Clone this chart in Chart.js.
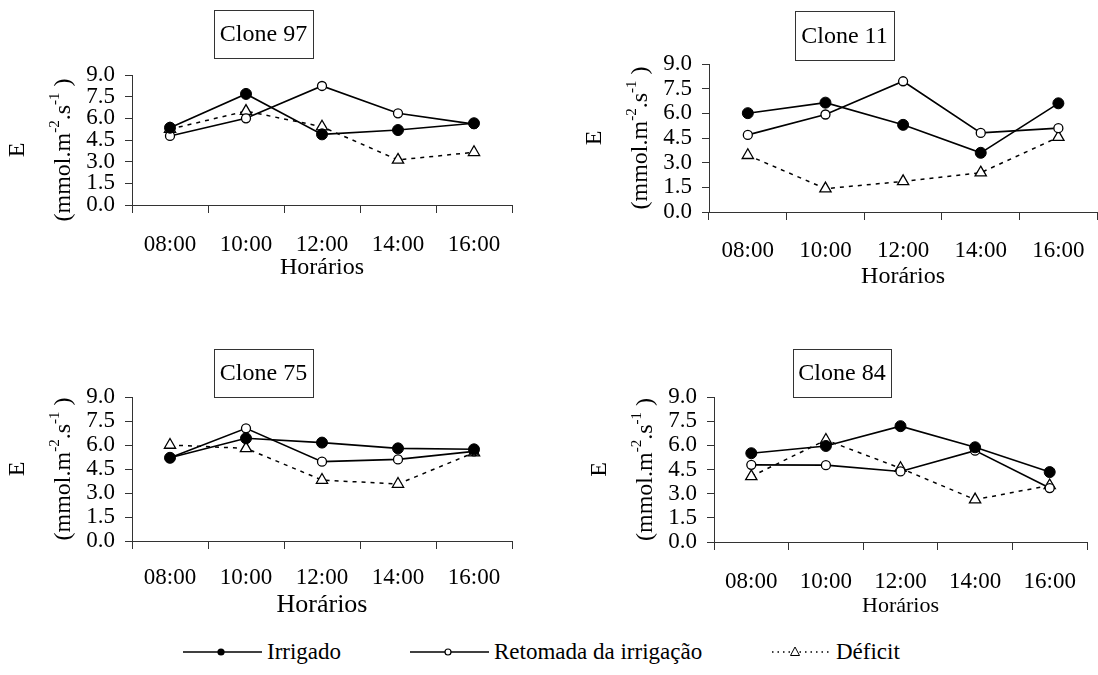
<!DOCTYPE html>
<html>
<head>
<meta charset="utf-8">
<script src="https://cdn.jsdelivr.net/npm/chart.js@4.4.1/dist/chart.umd.min.js"></script>
<style>
html, body { margin:0; padding:0; background:#fff; width:1098px; height:675px; overflow:hidden; position:relative; }
canvas { position:absolute; }
.leg { position:absolute; top:636px; height:32px; font-family:"Liberation Serif","Times New Roman",serif; font-size:23px; line-height:32px; color:#000; white-space:nowrap; }
.leg svg { position:absolute; top:0; left:0; }
.leg span { position:absolute; top:0; }
</style>
</head>
<body>
<canvas id="c0" width="540" height="300" style="left:0px;top:0px"></canvas>
<canvas id="c1" width="545" height="300" style="left:560px;top:0px"></canvas>
<canvas id="c2" width="540" height="300" style="left:0px;top:330px"></canvas>
<canvas id="c3" width="540" height="300" style="left:560px;top:330px"></canvas>
<div id="legend"></div>
<script>
// horários (eixo x) e marcas do eixo y
const horarios = ['08:00', '10:00', '12:00', '14:00', '16:00'];
const yTickValues = [0, 1.5, 3, 4.5, 6, 7.5, 9];
const seriesNames = ['Irrigado', 'Retomada da irrigação', 'Déficit'];
const cloneNames = ['Clone 97', 'Clone 11', 'Clone 75', 'Clone 84'];

// E (mmol.m-2.s-1)
const irrigado97 = [5.35, 7.69, 4.89, 5.19, 5.66];
const retomada97 = [4.78, 6.00, 8.24, 6.35, 5.60];
const deficit97  = [5.25, 6.50, 5.42, 3.12, 3.65];

const irrigado11 = [6.01, 6.65, 5.30, 3.60, 6.61];
const retomada11 = [4.69, 5.93, 7.95, 4.81, 5.10];
const deficit11  = [3.45, 1.42, 1.86, 2.39, 4.55];

const irrigado75 = [5.20, 6.42, 6.15, 5.79, 5.73];
const retomada75 = [5.20, 7.04, 4.96, 5.10, 5.60];
const deficit75  = [6.00, 5.79, 3.81, 3.56, 5.52];

const irrigado84 = [5.51, 5.96, 7.19, 5.88, 4.34];
const retomada84 = [4.79, 4.77, 4.38, 5.67, 3.35];
const deficit84  = [4.07, 6.33, 4.58, 2.63, 3.51];

const FONT = '"Liberation Serif", "Times New Roman", serif';
const Y_AXIS_W = 60;

// layout of each panel (pixels)
const panels = [
  { id: 'c0', title: cloneNames[0], values: [irrigado97, retomada97, deficit97],
    pad: { left: 72, top: 75, right: 28, bottom: 20 }, xH: 75, tickPad: 18, xTitle: 24,
    box: { dx: 82, dy: -65, w: 99, h: 48 }, yShift: 10 },
  { id: 'c1', title: cloneNames[1], values: [irrigado11, retomada11, deficit11],
    pad: { left: 89, top: 64, right: 4, bottom: 11 }, xH: 77, tickPad: 17, xTitle: 24,
    box: { dx: 86, dy: -53, w: 99, h: 49 }, yShift: 0 },
  { id: 'c2', title: cloneNames[2], values: [irrigado75, retomada75, deficit75],
    pad: { left: 72, top: 67, right: 28, bottom: 12 }, xH: 77, tickPad: 15, xTitle: 26,
    box: { dx: 82, dy: -48, w: 99, h: 48 }, yShift: 0 },
  { id: 'c3', title: cloneNames[3], values: [irrigado84, retomada84, deficit84],
    pad: { left: 94, top: 67, right: 13, bottom: 13 }, xH: 75, tickPad: 18, xTitle: 22,
    box: { dx: 79, dy: -48, w: 98, h: 48 }, yShift: 0 }
];

const panelDeco = {
  id: 'panelDeco',
  afterDraw(chart, args, opts) {
    const ctx = chart.ctx;
    const a = chart.chartArea;
    ctx.save();
    // caixa com o nome do clone
    const bx = Math.round(a.left + opts.box.dx), by = Math.round(a.top + opts.box.dy);
    ctx.strokeStyle = '#333';
    ctx.lineWidth = 1;
    ctx.strokeRect(bx + 0.5, by + 0.5, opts.box.w, opts.box.h);
    ctx.fillStyle = '#000';
    ctx.font = '24px ' + FONT;
    ctx.textAlign = 'center';
    ctx.textBaseline = 'middle';
    ctx.fillText(opts.title, bx + opts.box.w / 2, by + opts.box.h / 2 + 1);

    // título do eixo y, rotacionado
    const cy = (a.top + a.bottom) / 2 + opts.yShift;
    ctx.textBaseline = 'alphabetic';
    ctx.save();
    ctx.translate(a.left - 108, cy);
    ctx.rotate(-Math.PI / 2);
    ctx.font = '24px ' + FONT;
    ctx.textAlign = 'center';
    ctx.fillText('E', 0, 0);
    ctx.restore();

    const parts = [['(mmol.m', false], ['-2', true], ['.s', false], ['-1', true], [' )', false]];
    const big = '24px ' + FONT, small = '15px ' + FONT;
    let total = 0;
    parts.forEach(p => { ctx.font = p[1] ? small : big; total += ctx.measureText(p[0]).width; });
    ctx.save();
    ctx.translate(a.left - 62, cy);
    ctx.rotate(-Math.PI / 2);
    ctx.textAlign = 'left';
    let x = -total / 2;
    parts.forEach(p => {
      ctx.font = p[1] ? small : big;
      ctx.fillText(p[0], x, p[1] ? -11 : 0);
      x += ctx.measureText(p[0]).width;
    });
    ctx.restore();
    ctx.restore();
  }
};

function makeDatasets(values) {
  return [
    { label: seriesNames[0], data: values[0], borderColor: '#000', borderWidth: 1.6,
      pointStyle: 'circle', pointRadius: 5.5, pointBackgroundColor: '#000',
      pointBorderColor: '#000', pointBorderWidth: 1 },
    { label: seriesNames[1], data: values[1], borderColor: '#000', borderWidth: 1.6,
      pointStyle: 'circle', pointRadius: 4.5, pointBackgroundColor: '#fff',
      pointBorderColor: '#000', pointBorderWidth: 1.3 },
    { label: seriesNames[2], data: values[2], borderColor: '#000', borderWidth: 1.5,
      borderDash: [4, 5], pointStyle: 'triangle', pointRadius: 6.5,
      pointBackgroundColor: '#fff', pointBorderColor: '#000', pointBorderWidth: 1.3 }
  ];
}

panels.forEach(p => {
  new Chart(document.getElementById(p.id), {
    type: 'line',
    data: { labels: horarios, datasets: makeDatasets(p.values) },
    options: {
      responsive: false,
      animation: false,
      layout: { padding: p.pad },
      plugins: {
        legend: { display: false },
        tooltip: { enabled: false },
        panelDeco: { title: p.title, box: p.box, yShift: p.yShift }
      },
      scales: {
        x: {
          offset: true,
          grid: { offset: true, drawOnChartArea: false, drawTicks: true, tickLength: 8, color: '#333' },
          border: { display: true, color: '#333', width: 1 },
          ticks: { color: '#000', padding: p.tickPad, maxRotation: 0, autoSkip: false,
                   font: { family: FONT, size: 23 } },
          title: { display: true, text: 'Horários', color: '#000', padding: 0,
                   font: { family: FONT, size: p.xTitle, lineHeight: 1 } },
          afterFit: s => { s.height = p.xH; }
        },
        y: {
          min: 0, max: 9,
          afterBuildTicks: s => { s.ticks = yTickValues.map(v => ({ value: v })); },
          grid: { drawOnChartArea: false, drawTicks: true, tickLength: 7, color: '#333' },
          border: { display: true, color: '#333', width: 1 },
          ticks: { color: '#000', padding: 10, autoSkip: false, font: { family: FONT, size: 23 },
                   callback: v => Number(v).toFixed(1) },
          afterFit: s => { s.width = Y_AXIS_W; }
        }
      }
    },
    plugins: [panelDeco]
  });
});

// legenda comum, abaixo dos painéis
const legendItems = [
  { left: 183, lineW: 79, marker: '<circle cx="38" cy="16" r="3.6" fill="#000"/>', dash: '' },
  { left: 410, lineW: 79, marker: '<circle cx="38" cy="16" r="3" fill="#fff" stroke="#000" stroke-width="1.2"/>', dash: '' },
  { left: 772, lineW: 59, marker: '<path d="M23 11 L27.5 19.5 L18.5 19.5 Z" fill="#fff" stroke="#000" stroke-width="1"/>', dash: 'stroke-dasharray="1.5,4"' }
];
const legendDiv = document.getElementById('legend');
legendItems.forEach((it, i) => {
  const d = document.createElement('div');
  d.className = 'leg';
  d.style.left = it.left + 'px';
  d.innerHTML = '<svg width="' + it.lineW + '" height="32"><line x1="0" y1="16" x2="' + it.lineW +
    '" y2="16" stroke="#000" stroke-width="1.4" ' + it.dash + '/>' + it.marker + '</svg>' +
    '<span style="left:' + (it.lineW + 5) + 'px">' + seriesNames[i] + '</span>';
  legendDiv.appendChild(d);
});
</script>
</body>
</html>
